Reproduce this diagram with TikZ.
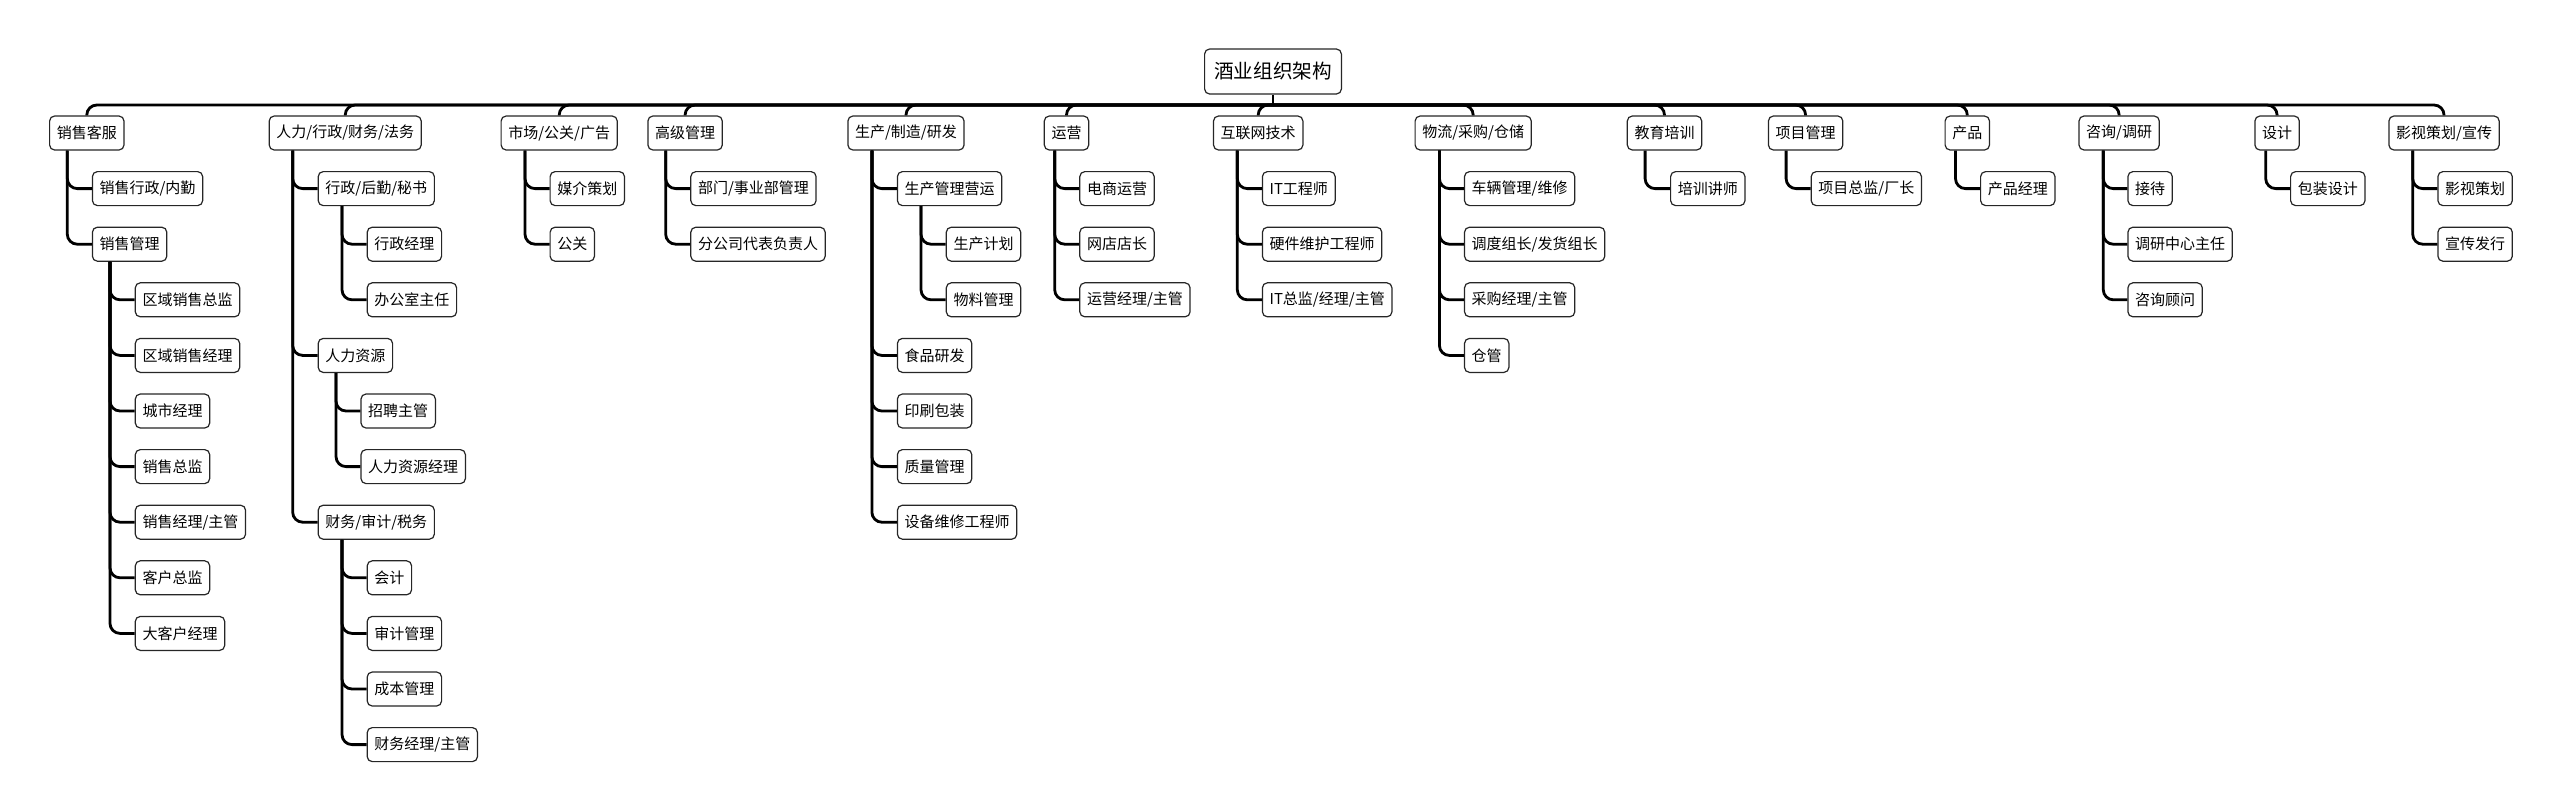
\documentclass[tikz,border=0pt]{standalone}
\usepackage{fontspec}
\newfontfamily\cjk{Noto Sans CJK SC}
\usepackage{tikz}
\usetikzlibrary{calc}

\begin{document}
\begin{tikzpicture}[x=0.5pt, y=-0.5pt,
    box/.style={draw=black!85, line width=0.6pt, rounded corners=2.5pt, fill=white,
      font=\cjk\fontsize{7.5pt}{9pt}\selectfont, minimum height=17pt,
      inner xsep=3.6pt, inner ysep=0pt, anchor=west},
    rootbox/.style={box, font=\cjk\fontsize{9.8pt}{12pt}\selectfont,
      minimum height=22.5pt, inner xsep=4.8pt, anchor=center},
    link/.style={line width=1.4pt, rounded corners=5pt}]
    \useasboundingbox (0,0) rectangle (2560,811);

    % Root
    \node[rootbox] (root) at (1273,71.5) {酒业组织架构};
    \coordinate (hub) at (1273,105);

    % First level
    \node[box] (xs) at (49,133) {销售客服};
    \node[box] (rl) at (268.6,133) {人力/行政/财务/法务};
    \node[box] (sc) at (500.5,133) {市场/公关/广告};
    \node[box] (gj) at (647.3,133) {高级管理};
    \node[box] (sz) at (847.3,133) {生产/制造/研发};
    \node[box] (yy) at (1043.7,133) {运营};
    \node[box] (hl) at (1212.9,133) {互联网技术};
    \node[box] (wl) at (1414.5,133) {物流/采购/仓储};
    \node[box] (jy) at (1626.7,133) {教育培训};
    \node[box] (xm) at (1767.8,133) {项目管理};
    \node[box] (cp) at (1944.5,133) {产品};
    \node[box] (zx) at (2078.4,133) {咨询/调研};
    \node[box] (sj) at (2254.3,133) {设计};
    \node[box] (ys) at (2388.3,133) {影视策划/宣传};

    \draw[link] (root.south) -- (hub);
    \foreach \n in {xs,rl,sc,gj,sz,yy,hl,wl,jy,xm,cp,zx,sj,ys}
        \draw[link] (hub) -| (\n.north);

    % Sales
    \node[box] (xs1) at (91.8,188.6) {销售行政/内勤};
    \node[box] (xs2) at (91.8,244.2) {销售管理};
    \node[box] (xs21) at (134.7,299.8) {区域销售总监};
    \node[box] (xs22) at (134.7,355.4) {区域销售经理};
    \node[box] (xs23) at (134.7,411) {城市经理};
    \node[box] (xs24) at (134.7,466.6) {销售总监};
    \node[box] (xs25) at (134.7,522.2) {销售经理/主管};
    \node[box] (xs26) at (134.7,577.8) {客户总监};
    \node[box] (xs27) at (134.7,633.4) {大客户经理};
    \foreach \c in {xs1,xs2}
        \draw[link] ($(xs.south west)+(18.3,0)$) |- (\c.west);
    \foreach \c in {xs21,xs22,xs23,xs24,xs25,xs26,xs27}
        \draw[link] ($(xs2.south west)+(18.2,0)$) |- (\c.west);

    % HR, admin, finance
    \node[box] (rl1) at (317.6,188.6) {行政/后勤/秘书};
    \node[box] (rl11) at (366.6,244.2) {行政经理};
    \node[box] (rl12) at (366.6,299.8) {办公室主任};
    \node[box] (rl2) at (317.6,355.4) {人力资源};
    \node[box] (rl21) at (360.4,411) {招聘主管};
    \node[box] (rl22) at (360.4,466.6) {人力资源经理};
    \node[box] (rl3) at (317.6,522.2) {财务/审计/税务};
    \node[box] (rl31) at (366.6,577.8) {会计};
    \node[box] (rl32) at (366.6,633.4) {审计管理};
    \node[box] (rl33) at (366.6,689) {成本管理};
    \node[box] (rl34) at (366.6,744.6) {财务经理/主管};
    \foreach \c in {rl1,rl2,rl3}
        \draw[link] ($(rl.south west)+(24.1,0)$) |- (\c.west);
    \foreach \c in {rl11,rl12}
        \draw[link] ($(rl1.south west)+(24.4,0)$) |- (\c.west);
    \foreach \c in {rl21,rl22}
        \draw[link] ($(rl2.south west)+(18.4,0)$) |- (\c.west);
    \foreach \c in {rl31,rl32,rl33,rl34}
        \draw[link] ($(rl3.south west)+(24.4,0)$) |- (\c.west);

    % Marketing
    \node[box] (sc1) at (549.5,188.6) {媒介策划};
    \node[box] (sc2) at (549.5,244.2) {公关};
    \foreach \c in {sc1,sc2}
        \draw[link] ($(sc.south west)+(24.5,0)$) |- (\c.west);

    % Senior management
    \node[box] (gj1) at (690.2,188.6) {部门/事业部管理};
    \node[box] (gj2) at (690.2,244.2) {分公司代表负责人};
    \foreach \c in {gj1,gj2}
        \draw[link] ($(gj.south west)+(18.4,0)$) |- (\c.west);

    % Production
    \node[box] (sz1) at (896.8,188.6) {生产管理营运};
    \node[box] (sz11) at (945.7,244.2) {生产计划};
    \node[box] (sz12) at (945.7,299.8) {物料管理};
    \node[box] (sz2) at (896.8,355.4) {食品研发};
    \node[box] (sz3) at (896.8,411) {印刷包装};
    \node[box] (sz4) at (896.8,466.6) {质量管理};
    \node[box] (sz5) at (896.8,522.2) {设备维修工程师};
    \foreach \c in {sz1,sz2,sz3,sz4,sz5}
        \draw[link] ($(sz.south west)+(24.6,0)$) |- (\c.west);
    \foreach \c in {sz11,sz12}
        \draw[link] ($(sz1.south west)+(24.2,0)$) |- (\c.west);

    % Operations
    \node[box] (yy1) at (1079.2,188.6) {电商运营};
    \node[box] (yy2) at (1079.2,244.2) {网店店长};
    \node[box] (yy3) at (1079.2,299.8) {运营经理/主管};
    \foreach \c in {yy1,yy2,yy3}
        \draw[link] ($(yy.south west)+(11,0)$) |- (\c.west);

    % Internet
    \node[box] (hl1) at (1261.8,188.6) {IT工程师};
    \node[box] (hl2) at (1261.8,244.2) {硬件维护工程师};
    \node[box] (hl3) at (1261.8,299.8) {IT总监/经理/主管};
    \foreach \c in {hl1,hl2,hl3}
        \draw[link] ($(hl.south west)+(24.4,0)$) |- (\c.west);

    % Logistics
    \node[box] (wl1) at (1463.9,188.6) {车辆管理/维修};
    \node[box] (wl2) at (1463.9,244.2) {调度组长/发货组长};
    \node[box] (wl3) at (1463.9,299.8) {采购经理/主管};
    \node[box] (wl4) at (1463.9,355.4) {仓管};
    \foreach \c in {wl1,wl2,wl3,wl4}
        \draw[link] ($(wl.south west)+(24.9,0)$) |- (\c.west);

    % Training, projects, product
    \node[box] (jy1) at (1670,188.6) {培训讲师};
    \draw[link] ($(jy.south west)+(18.4,0)$) |- (jy1.west);
    \node[box] (xm1) at (1810.6,188.6) {项目总监/厂长};
    \draw[link] ($(xm.south west)+(18.3,0)$) |- (xm1.west);
    \node[box] (cp1) at (1980,188.6) {产品经理};
    \draw[link] ($(cp.south west)+(11,0)$) |- (cp1.west);

    % Consulting
    \node[box] (zx1) at (2127.3,188.6) {接待};
    \node[box] (zx2) at (2127.3,244.2) {调研中心主任};
    \node[box] (zx3) at (2127.3,299.8) {咨询顾问};
    \foreach \c in {zx1,zx2,zx3}
        \draw[link] ($(zx.south west)+(24.9,0)$) |- (\c.west);

    % Design, media
    \node[box] (sj1) at (2290,188.6) {包装设计};
    \draw[link] ($(sj.south west)+(11.4,0)$) |- (sj1.west);
    \node[box] (ys1) at (2437.3,188.6) {影视策划};
    \node[box] (ys2) at (2437.3,244.2) {宣传发行};
    \foreach \c in {ys1,ys2}
        \draw[link] ($(ys.south west)+(24.4,0)$) |- (\c.west);
\end{tikzpicture}
\end{document}
